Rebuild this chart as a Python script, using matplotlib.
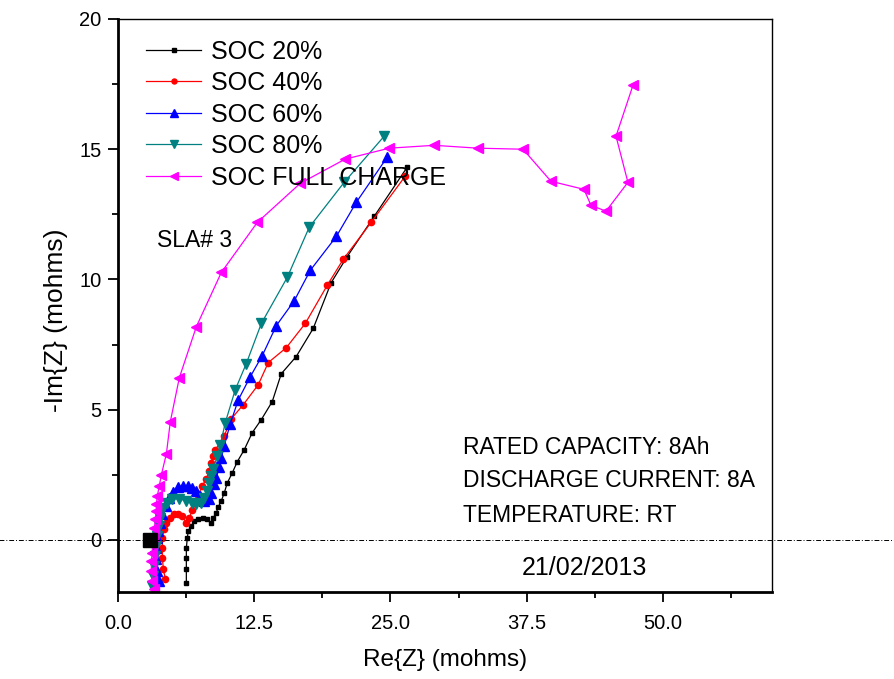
import matplotlib
matplotlib.use("Agg")
from matplotlib import pyplot as plt
from matplotlib.ticker import MultipleLocator, FixedLocator

plt.rcParams['font.family'] = ['Liberation Sans', 'DejaVu Sans']

# 读图得到的数据 (Re{Z}, -Im{Z})，单位 mohms
soc20_x = [6.27, 6.27, 6.27, 6.27, 6.36, 6.45, 6.73, 7.00, 7.37, 7.83, 8.19, 8.56, 8.74, 9.02, 9.20, 9.48,
           9.75, 10.03, 10.49, 10.94, 11.58, 12.32, 13.15, 14.15, 14.98, 16.35, 17.91, 19.56, 21.03, 23.50, 26.53]
soc20_y = [-1.65, -1.12, -0.69, -0.31, 0.08, 0.35, 0.54, 0.73, 0.81, 0.85, 0.81, 0.65, 0.85, 1.04, 1.27, 1.50,
           1.81, 2.19, 2.58, 3.00, 3.46, 4.12, 4.62, 5.31, 6.38, 7.04, 8.12, 9.88, 10.88, 12.42, 14.31]

soc40_x = [4.34, 4.16, 4.07, 4.07, 4.07, 4.25, 4.44, 4.80, 5.17, 5.54, 5.90, 6.27, 6.54, 6.82, 7.09, 7.37, 7.74,
           8.10, 8.38, 8.56, 8.74, 8.93, 9.75, 10.39, 11.49, 12.87, 13.79, 15.44, 17.18, 19.19, 20.66, 23.22, 26.34]
soc40_y = [-1.50, -1.12, -0.69, -0.31, 0.08, 0.42, 0.65, 0.85, 1.00, 1.00, 0.92, 0.65, 0.85, 1.15, 1.42, 1.73, 2.08,
           2.35, 2.65, 2.96, 3.23, 3.46, 4.00, 4.65, 5.19, 5.96, 6.81, 7.38, 8.31, 9.77, 10.77, 12.19, 13.96]

soc60_x = [3.79, 3.61, 3.52, 3.52, 3.61, 3.70, 3.89, 4.07, 4.44, 4.71, 5.08, 5.54, 6.00, 6.45, 6.82, 7.19, 7.55,
           7.92, 8.38, 8.56, 8.84, 9.02, 9.29, 9.48, 9.75, 10.30, 11.04, 12.14, 13.24, 14.53, 16.18, 17.64, 20.03,
           21.86, 24.69]
soc60_y = [-1.58, -1.19, -0.73, -0.31, 0.08, 0.35, 0.65, 1.00, 1.31, 1.62, 1.85, 2.04, 2.08, 2.08, 2.00, 1.88, 1.69,
           1.50, 1.58, 1.81, 2.15, 2.38, 2.81, 3.15, 3.62, 4.46, 5.38, 6.27, 7.08, 8.23, 9.19, 10.35, 11.65,
           12.96, 14.69]

soc80_x = [3.15, 3.24, 3.34, 3.43, 3.52, 3.61, 3.79, 3.89, 4.16, 4.53, 4.99, 5.63, 6.27, 6.82, 7.19, 7.64, 7.92,
           8.19, 8.38, 8.56, 8.74, 9.11, 9.39, 9.84, 10.76, 11.77, 13.15, 15.53, 17.54, 20.75, 24.42]
soc80_y = [-1.77, -1.38, -1.00, -0.62, -0.23, 0.15, 0.54, 0.85, 1.23, 1.42, 1.58, 1.58, 1.50, 1.42, 1.38, 1.42, 1.62,
           1.88, 2.19, 2.46, 2.73, 3.23, 3.65, 4.50, 5.77, 6.77, 8.31, 10.08, 12.00, 13.73, 15.50]

full_x = [3.34, 3.15, 3.06, 3.06, 3.15, 3.15, 3.24, 3.34, 3.43, 3.52, 3.52, 3.61, 3.79, 3.98, 4.44, 4.80, 5.63,
          7.19, 9.48, 12.78, 16.72, 20.84, 24.88, 29.00, 33.03, 37.16, 39.72, 42.75, 43.39, 44.77, 46.78, 45.69, 47.25]
full_y = [-1.88, -1.58, -1.19, -0.81, -0.50, -0.15, 0.15, 0.46, 0.81, 1.12, 1.38, 1.69, 2.08, 2.50, 3.31, 4.54, 6.23,
          8.19, 10.27, 12.19, 13.69, 14.62, 15.04, 15.15, 15.04, 15.00, 13.77, 13.46, 12.85, 12.62, 13.73, 15.50, 17.46]

# 单独的大方块点
big_x = [2.9]
big_y = [0.0]

x_ticks = [0, 12.5, 25, 37.5, 50]
x_labels = ["0.0", "12.5", "25.0", "37.5", "50.0"]
y_ticks = [0, 5, 10, 15, 20]

fig = plt.figure(figsize=(8.95, 6.79), dpi=100)
ax = fig.add_axes([118 / 895, 1 - 592 / 679, 654 / 895, 573 / 679])

ax.plot(soc20_x, soc20_y, '-s', color='black', lw=0.9, ms=3.5, label='SOC 20%')
ax.plot(soc40_x, soc40_y, '-o', color='red', lw=0.9, ms=4.5, label='SOC 40%')
ax.plot(soc60_x, soc60_y, '-^', color='blue', lw=0.9, ms=7, label='SOC 60%')
ax.plot(soc80_x, soc80_y, '-v', color='#008080', lw=0.9, ms=7, label='SOC 80%')
ax.plot(full_x, full_y, '-<', color='#FF00FF', lw=0.9, ms=7, label='SOC FULL CHARGE')
ax.plot(big_x, big_y, 's', color='black', ms=10)

# 零线穿过整张图
ax.axhline(0, xmin=-0.2, xmax=1.2, color='black', lw=0.7, ls=(0, (5, 2, 1, 2)), clip_on=False)

ax.set_xlim(0, 60)
ax.set_ylim(-2, 20)
ax.xaxis.set_major_locator(FixedLocator(x_ticks))
ax.set_xticklabels(x_labels)
ax.xaxis.set_minor_locator(MultipleLocator(6.25))
ax.yaxis.set_major_locator(FixedLocator(y_ticks))
ax.yaxis.set_minor_locator(FixedLocator([2.5, 7.5, 12.5, 17.5]))

ax.tick_params(which='major', direction='out', length=7, width=1.3, labelsize=14.5)
ax.tick_params(axis='x', which='major', pad=9)
ax.tick_params(axis='y', which='major', pad=5)
ax.tick_params(which='minor', direction='out', length=4, width=1.3)
ax.tick_params(top=False, right=False, which='both')
ax.spines['left'].set_linewidth(2.0)
ax.spines['bottom'].set_linewidth(2.0)
ax.spines['top'].set_linewidth(1.0)
ax.spines['right'].set_linewidth(1.0)

ax.set_xlabel('Re{Z} (mohms)', fontsize=17.5)
ax.xaxis.set_label_coords(0.5, -0.10)
ax.set_ylabel('-Im{Z} (mohms)', fontsize=19)
ax.yaxis.set_label_coords(-0.077, 0.475)

ax.text(0.06, 0.614, 'SLA# 3', transform=ax.transAxes, fontsize=16.5, va='center')
ax.text(0.5275, 0.253, 'RATED CAPACITY: 8Ah', transform=ax.transAxes, fontsize=16.5, va='center')
ax.text(0.5275, 0.194, 'DISCHARGE CURRENT: 8A', transform=ax.transAxes, fontsize=16.5, va='center')
ax.text(0.5275, 0.133, 'TEMPERATURE: RT', transform=ax.transAxes, fontsize=16.5, va='center')
ax.text(0.7125, 0.042, '21/02/2013', transform=ax.transAxes, fontsize=18, va='center', ha='center')

leg = ax.legend(loc='upper left', bbox_to_anchor=(0.02, 0.99), frameon=False, fontsize=18,
                handlelength=2.2, handletextpad=0.4, labelspacing=0.3, markerscale=0.8, borderaxespad=0.2)

fig.savefig('out.png', dpi=100)
